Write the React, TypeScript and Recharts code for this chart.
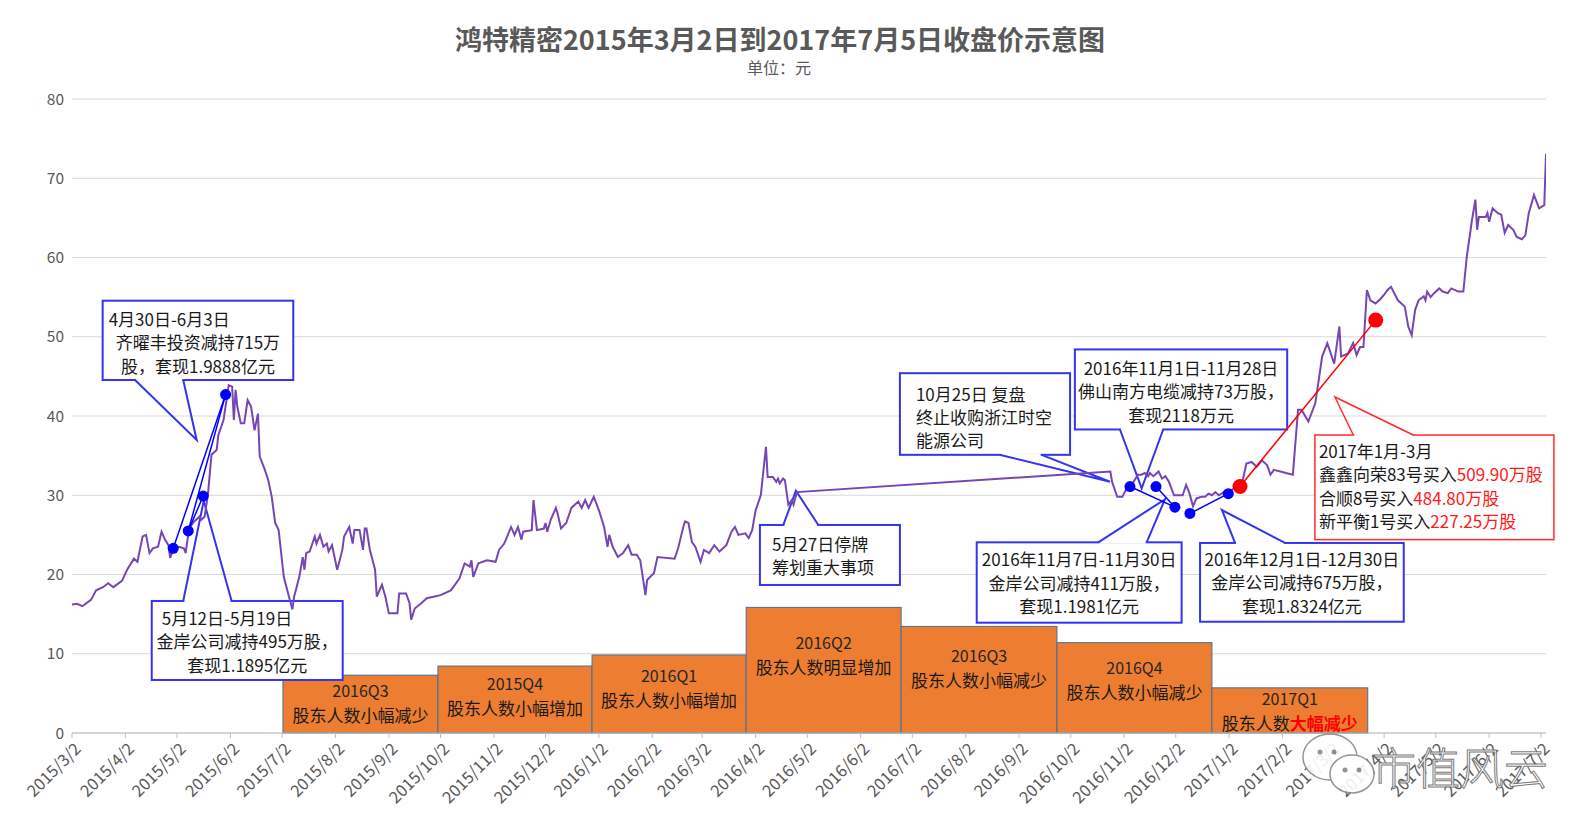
import React from "react";
import {
  LineChart,
  Line,
  XAxis,
  YAxis,
  CartesianGrid,
  ReferenceArea,
  ReferenceLine,
  ReferenceDot,
} from "recharts";

// x values are calendar days since 2015/3/2
const DAYS = [
  0, 3, 6, 11, 14, 18, 21, 24, 29, 32, 36, 38, 41, 43, 45, 47, 50, 52, 54, 56, 57, 59, 62, 65, 66, 68, 71, 74, 75, 77, 79, 81,
  84, 85, 88, 90, 91, 93, 94, 95, 96, 98, 100, 102, 104, 106, 108, 109, 112, 114, 116, 118, 120, 123, 126, 128, 129, 132, 134,
  135, 136, 138, 141, 142, 144, 146, 148, 149, 151, 154, 157, 158, 161, 163, 164, 167, 169, 170, 171, 173, 176, 177, 180, 182,
  184, 189, 190, 194, 196, 197, 199, 203, 206, 210, 214, 220, 225, 228, 231, 232, 233, 236, 241, 246, 248, 251, 255, 257, 259,
  261, 262, 267, 268, 270, 274, 275, 276, 278, 281, 282, 284, 287, 290, 294, 296, 298, 300, 303, 306, 309, 311, 312, 314, 317,
  320, 323, 325, 328, 330, 332, 333, 334, 338, 340, 350, 352, 355, 356, 358, 360, 362, 365, 367, 370, 373, 376, 380, 383, 385,
  387, 391, 393, 395, 397, 400, 403, 404, 407, 409, 410, 411, 413, 414, 416, 418, 419, 421, 603, 604, 607, 610, 612, 614, 616,
  619, 621, 623, 625, 626, 628, 631, 633, 635, 637, 640, 643, 645, 647, 649, 651, 653, 656, 658, 660, 662, 664, 666, 669, 671,
  675, 679, 682, 685, 688, 691, 694, 696, 698, 705, 709, 712, 714, 718, 722, 724, 726, 729, 733, 736, 737, 741, 744, 746, 748,
  750, 752, 754, 757, 760, 762, 764, 766, 770, 772, 774, 776, 778, 780, 782, 785, 786, 787, 789, 791, 794, 796, 799, 801, 805,
  808, 810, 813, 815, 816, 817, 821, 822, 823, 825, 828, 830, 832, 834, 837, 839, 842, 844, 846, 849, 852, 855, 856,
];
const CLOSE = [
  16.2, 16.3, 16.0, 16.8, 18.0, 18.4, 18.9, 18.4, 19.2, 20.6, 22.0, 21.6, 24.8, 25.0, 22.7, 23.3, 23.5, 25.4, 24.4, 23.7, 22.1,
  23.3, 23.5, 23.3, 22.7, 25.8, 26.7, 27.3, 26.9, 27.3, 30.2, 35.1, 35.7, 37.6, 39.5, 42.4, 43.9, 43.7, 39.5, 43.3, 41.2, 39.1,
  39.1, 42.0, 41.2, 38.2, 40.3, 34.9, 33.2, 31.9, 29.8, 26.5, 25.6, 19.7, 17.2, 15.6, 17.2, 19.7, 22.2, 20.6, 22.7, 22.9, 24.8,
  23.9, 25.0, 23.5, 23.9, 22.9, 23.7, 20.6, 23.1, 24.8, 26.0, 23.9, 25.6, 25.6, 23.1, 25.8, 25.8, 23.1, 20.6, 17.2, 18.7, 17.2,
  15.1, 15.1, 17.6, 17.6, 16.4, 14.3, 15.7, 16.4, 17.0, 17.2, 17.4, 18.0, 19.5, 21.4, 21.0, 21.8, 19.7, 21.4, 21.8, 21.6, 23.1,
  23.9, 26.0, 25.0, 26.0, 24.4, 25.4, 25.6, 29.4, 25.6, 25.8, 26.5, 25.4, 26.9, 28.4, 27.7, 25.8, 26.5, 28.4, 29.2, 28.4, 29.4,
  28.4, 29.8, 28.1, 26.0, 23.5, 25.0, 23.5, 22.2, 22.7, 23.7, 22.5, 22.5, 21.8, 18.9, 17.4, 19.3, 20.2, 22.2, 22.0, 23.3, 26.0,
  26.7, 26.5, 24.1, 23.5, 21.6, 23.1, 22.7, 23.7, 22.9, 23.7, 25.4, 26.0, 25.0, 25.2, 24.6, 25.6, 28.1, 30.0, 36.1, 32.3, 32.3,
  31.7, 32.1, 31.5, 32.1, 31.9, 28.8, 29.4, 28.8, 30.4, 33.0, 31.7, 29.8, 29.8, 30.7, 31.2, 31.5, 32.6, 32.6, 32.8, 32.4, 32.8,
  32.4, 33.0, 32.1, 32.4, 31.7, 30.0, 30.0, 30.0, 31.3, 30.2, 28.6, 29.6, 29.8, 29.8, 30.2, 30.0, 30.4, 30.0, 30.4, 30.3, 30.9,
  31.0, 34.0, 34.2, 33.6, 34.4, 33.8, 32.6, 33.2, 32.8, 32.6, 40.8, 40.8, 39.3, 41.6, 44.5, 47.5, 49.2, 46.6, 51.3, 47.5, 47.9,
  49.2, 47.7, 48.7, 48.7, 55.9, 54.6, 54.2, 54.8, 55.3, 55.9, 56.3, 54.6, 54.2, 53.8, 51.3, 50.2, 53.4, 54.6, 55.1, 54.6, 55.7,
  55.0, 55.5, 56.1, 55.7, 55.5, 56.1, 55.7, 55.7, 60.1, 64.7, 67.3, 63.5, 65.1, 65.1, 65.6, 64.5, 66.2, 65.6, 65.4, 63.1, 64.1,
  63.5, 62.6, 62.3, 62.8, 65.6, 67.9, 66.2, 66.6, 73.1,
];

const TICK_DAYS = [0, 31, 61, 92, 122, 153, 184, 214, 245, 275, 306, 337, 366, 397, 427, 458, 488, 519, 550, 580, 611, 641, 672, 703, 731, 762, 792, 823, 853];
const TICK_LABELS = [
  "2015/3/2", "2015/4/2", "2015/5/2", "2015/6/2", "2015/7/2", "2015/8/2", "2015/9/2", "2015/10/2", "2015/11/2", "2015/12/2",
  "2016/1/2", "2016/2/2", "2016/3/2", "2016/4/2", "2016/5/2", "2016/6/2", "2016/7/2", "2016/8/2", "2016/9/2", "2016/10/2",
  "2016/11/2", "2016/12/2", "2017/1/2", "2017/2/2", "2017/3/2", "2017/4/2", "2017/5/2", "2017/6/2", "2017/7/2",
];
const Y_TICKS = [0, 10, 20, 30, 40, 50, 60, 70, 80];

// quarterly shareholder-count boxes
const Q_TITLES = ["2016Q3", "2015Q4", "2016Q1", "2016Q2", "2016Q3", "2016Q4", "2017Q1"];
const Q_NOTES = ["股东人数小幅减少", "股东人数小幅增加", "股东人数小幅增加", "股东人数明显增加", "股东人数小幅减少", "股东人数小幅减少", "股东人数"];
const Q_NOTES_RED = ["", "", "", "", "", "", "大幅减少"];
const Q_START = [122.5, 212.5, 302, 391.5, 481.5, 572, 662];
const Q_END = [212.5, 302, 391.5, 481.5, 572, 662, 752.5];
const Q_LEVEL = [7.3, 8.45, 9.85, 15.85, 13.45, 11.4, 5.7];

// marked trades
const BLUE_DOTS = [
  [58.8, 23.3], [67.5, 25.5], [76.2, 29.9], [89.2, 42.7],
  [614.4, 31.1], [629.5, 31.1], [640.5, 28.5], [649.2, 27.7], [671.5, 30.2],
];
const BLUE_LINKS = [[0, 3], [1, 3], [1, 2], [4, 6], [5, 6], [7, 8]];
const RED_DOTS = [[678.3, 31.1], [757.1, 52.1]];

type Part = { t: string; red?: boolean };
type Callout = {
  x1: number; x2: number; y1: number; y2: number;
  edge: "top" | "bottom"; base: [number, number]; tip: [number, number];
  lines: Part[][]; align: ("left" | "center")[]; pad: number; firstY: number; gap: number; red?: boolean;
};

const CALLOUTS: Callout[] = [
  {
    x1: 17.8, x2: 128.5, y1: 44.54, y2: 54.55, edge: "bottom", base: [36.6, 64.6], tip: [72.4, 36.97],
    lines: [[{ t: "4月30日-6月3日" }], [{ t: "齐曜丰投资减持715万" }], [{ t: "股，套现1.9888亿元" }]],
    align: ["left", "center", "center"], pad: 6, firstY: 17, gap: 23.5,
  },
  {
    x1: 46.3, x2: 157.2, y1: 6.69, y2: 16.66, edge: "top", base: [64.6, 92.7], tip: [76.5, 29.3],
    lines: [[{ t: "5月12日-5月19日" }], [{ t: "金岸公司减持495万股，" }], [{ t: "套现1.1895亿元" }]],
    align: ["left", "center", "center"], pad: 10, firstY: 16, gap: 23.5,
  },
  {
    x1: 399.5, x2: 480.8, y1: 18.68, y2: 26.25, edge: "top", base: [413.1, 433.4], tip: [420.4, 30.57],
    lines: [[{ t: "5月27日停牌" }], [{ t: "筹划重大事项" }]],
    align: ["left", "left"], pad: 12, firstY: 18, gap: 23.5,
  },
  {
    x1: 480.8, x2: 579.6, y1: 35.1, y2: 45.4, edge: "bottom", base: [538.7, 563.1], tip: [602.8, 31.7],
    lines: [[{ t: "10月25日 复盘" }], [{ t: "终止收购浙江时空" }], [{ t: "能源公司" }]],
    align: ["left", "left", "left"], pad: 16, firstY: 20, gap: 23,
  },
  {
    x1: 582.4, x2: 705.7, y1: 38.3, y2: 48.4, edge: "bottom", base: [608.6, 633.7], tip: [621.2, 30.88],
    lines: [[{ t: "2016年11月1日-11月28日" }], [{ t: "佛山南方电缆减持73万股，" }], [{ t: "套现2118万元" }]],
    align: ["center", "center", "center"], pad: 0, firstY: 17.5, gap: 23.3,
  },
  {
    x1: 525.4, x2: 644.4, y1: 13.92, y2: 24.06, edge: "top", base: [596, 624.1], tip: [634.7, 29.49],
    lines: [[{ t: "2016年11月7日-11月30日" }], [{ t: "金岸公司减持411万股，" }], [{ t: "套现1.1981亿元" }]],
    align: ["center", "center", "center"], pad: 0, firstY: 16, gap: 23.5,
  },
  {
    x1: 655.1, x2: 773.4, y1: 14.04, y2: 23.98, edge: "top", base: [675.4, 704.4], tip: [667.8, 28.14],
    lines: [[{ t: "2016年12月1日-12月30日" }], [{ t: "金岸公司减持675万股，" }], [{ t: "套现1.8324亿元" }]],
    align: ["center", "center", "center"], pad: 0, firstY: 15, gap: 23.3,
  },
  {
    x1: 721.8, x2: 860.6, y1: 24.4, y2: 37.6, edge: "top", base: [744.1, 778.9], tip: [733.4, 42.4],
    lines: [
      [{ t: "2017年1月-3月" }],
      [{ t: "鑫鑫向荣83号买入" }, { t: "509.90万股", red: true }],
      [{ t: "合顺8号买入" }, { t: "484.80万股", red: true }],
      [{ t: "新平衡1号买入" }, { t: "227.25万股", red: true }],
    ],
    align: ["left", "left", "left", "left"], pad: 4, firstY: 15, gap: 23.3, red: true,
  },
];

const FONT = "'Noto Sans CJK SC', 'Noto Sans', sans-serif";
const BLUE = "#3434F2";
const RED = "#FF2A2A";

const data = DAYS.map((d, i) => ({ d, v: CLOSE[i] }));

function calloutShape(c: Callout) {
  return (p: any) => {
    const x = Number(p.x), y = Number(p.y), w = Number(p.width), h = Number(p.height);
    const sx = w / (c.x2 - c.x1);
    const sy = h / (c.y2 - c.y1);
    const px = (d: number) => x + (d - c.x1) * sx;
    const py = (v: number) => y + (c.y2 - v) * sy;
    const edgeY = c.edge === "top" ? y : y + h;
    const b1 = px(c.base[0]);
    const b2 = px(c.base[1]);
    const tx = px(c.tip[0]);
    const ty = py(c.tip[1]);
    const stroke = c.red ? RED : BLUE;
    return (
      <g>
        <rect x={x} y={y} width={w} height={h} fill="#fff" stroke={stroke} strokeWidth={c.red ? 1.5 : 2} />
        <line x1={b1 + 1} y1={edgeY} x2={b2 - 1} y2={edgeY} stroke="#fff" strokeWidth={3} />
        <polyline points={`${b1},${edgeY} ${tx},${ty} ${b2},${edgeY}`} fill="none" stroke={stroke} strokeWidth={c.red ? 1.5 : 2} />
        {c.lines.map((parts, i) => {
          const left = c.align[i] === "left";
          return (
            <text
              key={i}
              x={left ? x + c.pad : x + w / 2}
              y={y + c.firstY + c.gap * i}
              textAnchor={left ? "start" : "middle"}
              dominantBaseline="central"
              fontFamily={FONT}
              fontSize={17}
              fill="#1a1a1a"
            >
              {parts.map((pt, j) => (
                <tspan key={j} fill={pt.red ? "#FF1A1A" : "#1a1a1a"}>
                  {pt.t}
                </tspan>
              ))}
            </text>
          );
        })}
      </g>
    );
  };
}

function quarterShape(i: number) {
  return (p: any) => {
    const x = Number(p.x), y = Number(p.y), w = Number(p.width), h = Number(p.height);
    const c = y + 0.3 * h + 9;
    return (
      <g>
        <rect x={x} y={y} width={w} height={h} fill="#ED7D31" stroke="#41719C" strokeWidth={1} />
        <text x={x + w / 2} y={c - 12} textAnchor="middle" dominantBaseline="central" fontFamily={FONT} fontSize={16} fill="#262626">
          {Q_TITLES[i]}
        </text>
        <text x={x + w / 2} y={c + 12} textAnchor="middle" dominantBaseline="central" fontFamily={FONT} fontSize={17} fill="#1a1a1a">
          <tspan>{Q_NOTES[i]}</tspan>
          {Q_NOTES_RED[i] ? (
            <tspan fill="#FF0000" fontWeight={700}>
              {Q_NOTES_RED[i]}
            </tspan>
          ) : null}
        </text>
      </g>
    );
  };
}

const XTick = (props: any) => {
  const { x, y, payload } = props;
  const idx = TICK_DAYS.indexOf(payload.value);
  const label = idx >= 0 ? TICK_LABELS[idx] : "";
  const ax = x + 5;
  const ay = y + 5;
  return (
    <text
      x={ax}
      y={ay}
      transform={`rotate(-45 ${ax} ${ay})`}
      textAnchor="end"
      dominantBaseline="central"
      fontFamily={FONT}
      fontSize={16.5}
      fill="#595959"
    >
      {label}
    </text>
  );
};

export default function App() {
  return (
    <div style={{ position: "absolute", left: 0, top: 0, width: 1572, height: 830, background: "#fff" }}>
      <LineChart width={1572} height={830} data={data} margin={{ top: 99, right: 26, left: 22, bottom: 0 }}>
        <CartesianGrid vertical={false} stroke="#D9D9D9" strokeWidth={1} />
        <XAxis
          type="number"
          dataKey="d"
          domain={[0, 856]}
          allowDataOverflow
          ticks={TICK_DAYS}
          interval={0}
          tick={<XTick />}
          tickSize={5}
          height={97}
          stroke="#BFBFBF"
        />
        <YAxis
          domain={[0, 80]}
          ticks={Y_TICKS}
          width={50}
          axisLine={false}
          tickLine={false}
          tick={{ fill: "#595959", fontSize: 15.5, fontFamily: FONT }}
        />
        {Q_START.map((s, i) => (
          <ReferenceArea key={"q" + i} x1={s} x2={Q_END[i]} y1={0} y2={Q_LEVEL[i]} ifOverflow="visible" shape={quarterShape(i)} />
        ))}
        {CALLOUTS.map((c, i) => (
          <ReferenceArea key={"c" + i} x1={c.x1} x2={c.x2} y1={c.y1} y2={c.y2} ifOverflow="visible" shape={calloutShape(c)} />
        ))}
        <Line type="linear" dataKey="v" stroke="#7646B4" strokeWidth={2} dot={false} activeDot={false} isAnimationActive={false} />
        {BLUE_LINKS.map(([a, b], i) => (
          <ReferenceLine
            key={"bl" + i}
            segment={[
              { x: BLUE_DOTS[a][0], y: BLUE_DOTS[a][1] },
              { x: BLUE_DOTS[b][0], y: BLUE_DOTS[b][1] },
            ]}
            stroke="#0000FF"
            strokeWidth={1.5}
            ifOverflow="visible"
          />
        ))}
        <ReferenceLine
          segment={[
            { x: RED_DOTS[0][0], y: RED_DOTS[0][1] },
            { x: RED_DOTS[1][0], y: RED_DOTS[1][1] },
          ]}
          stroke="#FF0000"
          strokeWidth={1.5}
          ifOverflow="visible"
        />
        {BLUE_DOTS.map(([dx, dy], i) => (
          <ReferenceDot key={"bd" + i} x={dx} y={dy} r={5.5} fill="#0000FF" stroke="none" ifOverflow="visible" />
        ))}
        {RED_DOTS.map(([dx, dy], i) => (
          <ReferenceDot key={"rd" + i} x={dx} y={dy} r={7.5} fill="#FF0000" stroke="none" ifOverflow="visible" />
        ))}
      </LineChart>
      <svg width={1572} height={830} style={{ position: "absolute", left: 0, top: 0, pointerEvents: "none" }}>
        <text x={780} y={38} textAnchor="middle" dominantBaseline="central" fontFamily={FONT} fontSize={27} fontWeight={700} fill="#595959">
          鸿特精密2015年3月2日到2017年7月5日收盘价示意图
        </text>
        <text x={779} y={67} textAnchor="middle" dominantBaseline="central" fontFamily={FONT} fontSize={16} fill="#595959">
          单位：元
        </text>
        <g opacity={0.9}>
          <ellipse cx={1330} cy={757} rx={27} ry={23} fill="#fff" stroke="#8a8a8a" strokeWidth={1.5} />
          <circle cx={1320} cy={752} r={2.5} fill="#8a8a8a" />
          <circle cx={1334} cy={752} r={2.5} fill="#8a8a8a" />
          <ellipse cx={1352} cy={774} rx={22} ry={19} fill="#fff" stroke="#8a8a8a" strokeWidth={1.5} />
          <circle cx={1345} cy={770} r={2.5} fill="#8a8a8a" />
          <circle cx={1359} cy={770} r={2.5} fill="#8a8a8a" />
          <text x={1372} y={766} dominantBaseline="central" fontFamily={FONT} fontSize={44} fontWeight={300} fill="#fff" stroke="#6f6f6f" strokeWidth={1}>
            市值风云
          </text>
        </g>
      </svg>
    </div>
  );
}
